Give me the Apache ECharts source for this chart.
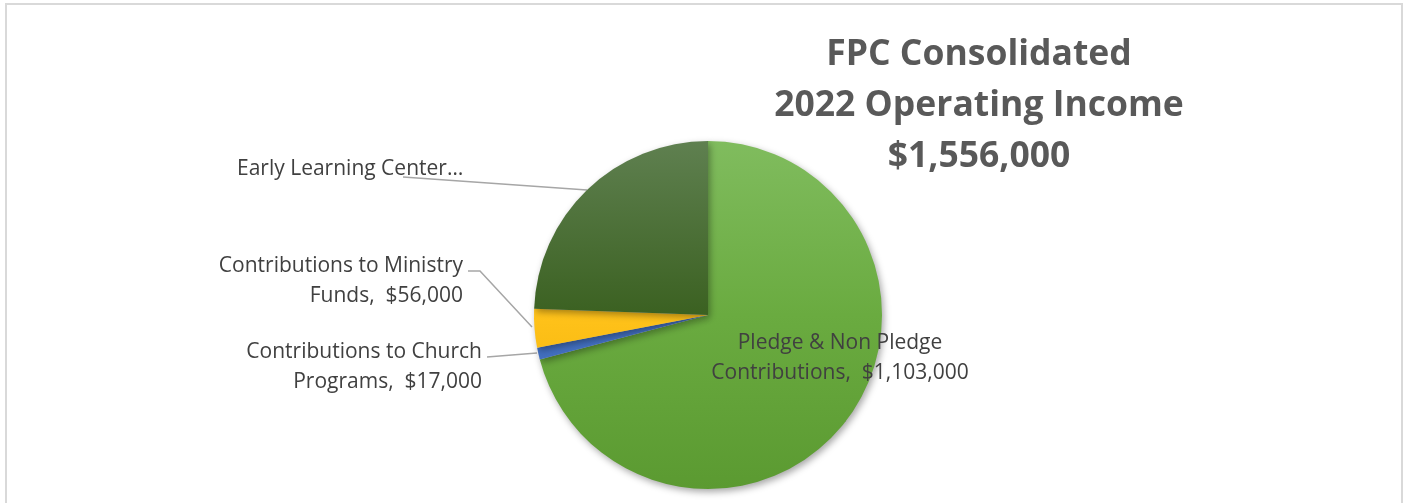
<!DOCTYPE html>
<html lang="en">
<head>
	<meta charset="UTF-8">
	<title>FPC Consolidated 2022 Operating Income</title>
	<script src="https://cdn.jsdelivr.net/npm/echarts@6/dist/echarts.min.js"></script>
	<style>
		html,body{margin:0;padding:0;background:#fff;overflow:hidden;}
		#box{position:absolute;left:0;top:0;width:1403px;height:503px;}
		.frame{position:absolute;left:5px;top:3px;width:1394px;height:600px;border:2px solid #d9d9d9;pointer-events:none;}
	</style>
</head>
<body>
<div id="box"></div>
<div class="frame"></div>
<script>
	// data
	let categories=['Pledge & Non Pledge Contributions','Contributions to Church Programs','Contributions to Ministry Funds','Early Learning Center'];
	let values=[1103000,17000,56000,380000];
	let labels=['Pledge & Non Pledge\nContributions,  $1,103,000','Contributions to Church\nPrograms,  $17,000','Contributions to Ministry\nFunds,  $56,000','Early Learning Center…'];
	let total='$1,556,000';

	function grad(stops){
		return {type:'linear',x:0,y:141,x2:0,y2:489,global:true,
			colorStops:stops.map((c,i)=>({offset:i/(stops.length-1),color:c}))};
	}
	let colors=[
		grad(['#80bc5e','#6aab40','#5b9a31']),
		grad(['#5a86d4','#4472c4','#3a64b0']),
		grad(['#ffd34d','#ffc21a','#e8aa00']),
		grad(['#5f8050','#3b6121','#2f5018'])
	];

	// where each label sits and how its leader runs
	let labelPos=[
		{x:840,y:358,align:'center',line:null},
		{x:482,y:367,align:'right',line:[[487,357],[537,353]]},
		{x:463,y:281,align:'right',line:[[468,271],[480,271],[532,327]]},
		{x:237,y:169,align:'left',line:[[403,177],[587,190]]}
	];

	let options={
		title:{
			text:'FPC Consolidated\n2022 Operating Income\n'+total,
			left:974,top:24,textAlign:'center',
			textStyle:{fontFamily:'Open Sans',fontSize:35.5,fontWeight:'bold',color:'#595959',lineHeight:51}
		},
		series:[
			{
				type:'pie',
				center:[708,315],
				radius:174,
				startAngle:90,
				clockwise:true,
				animation:false,
				data:categories.map((name,i)=>({name:name,value:values[i],itemStyle:{color:colors[i]}})),
				itemStyle:{borderWidth:0,shadowBlur:7,shadowOffsetX:2,shadowOffsetY:3,shadowColor:'rgba(0,0,0,0.35)'},
				label:{
					show:true,
					formatter:p=>labels[p.dataIndex],
					fontFamily:'Open Sans',fontSize:21,color:'#404040',lineHeight:30
				},
				labelLine:{show:true,lineStyle:{color:'#a6a6a6',width:1.5},smooth:false},
				labelLayout:function(params){
					let lp=labelPos[params.dataIndex];
					let out={x:lp.x,y:lp.y,align:lp.align,verticalAlign:'middle'};
					if(lp.line) out.labelLinePoints=lp.line;
					return out;
				}
			}
		]
	};
	let charts=echarts.init(document.getElementById('box'));
	charts.setOption(options);
</script>
</body>
</html>
